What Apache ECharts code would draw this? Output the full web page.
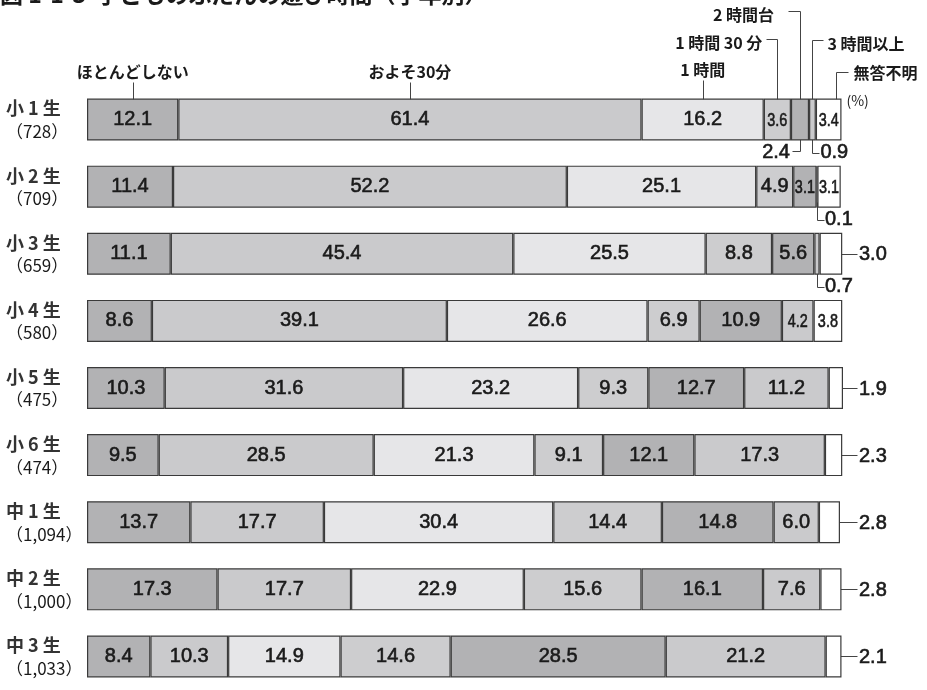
<!DOCTYPE html>
<html><head><meta charset="utf-8">
<script src="https://cdn.jsdelivr.net/npm/echarts@6/dist/echarts.min.js"></script>
<style>html,body{margin:0;padding:0;background:#fff}#c{width:927px;height:690px}</style>
</head><body><div id="c"></div>
<script>
// Grades (rows) and respondent counts
const grades = ['小 1 生','小 2 生','小 3 生','小 4 生','小 5 生','小 6 生','中 1 生','中 2 生','中 3 生'];
const counts = ['728','709','659','580','475','474','1,094','1,000','1,033'];

// Answer categories
const seriesNames = ['ほとんどしない','およそ30分','1 時間','1 時間 30 分','2 時間台','3 時間以上','無答不明'];

// Percentages per answer, by grade (%)
const hardlyAny      = [12.1, 11.4, 11.1,  8.6, 10.3,  9.5, 13.7, 17.3,  8.4];
const about30min     = [61.4, 52.2, 45.4, 39.1, 31.6, 28.5, 17.7, 17.7, 10.3];
const oneHour        = [16.2, 25.1, 25.5, 26.6, 23.2, 21.3, 30.4, 22.9, 14.9];
const oneHalfHour    = [ 3.6,  4.9,  8.8,  6.9,  9.3,  9.1, 14.4, 15.6, 14.6];
const twoHours       = [ 2.4,  3.1,  5.6, 10.9, 12.7, 12.1, 14.8, 16.1, 28.5];
const threeHoursPlus = [ 0.9,  0.1,  0.7,  4.2, 11.2, 17.3,  6.0,  7.6, 21.2];
const noAnswer       = [ 3.4,  3.1,  3.0,  3.8,  1.9,  2.3,  2.8,  2.8,  2.1];

const values = [hardlyAny, about30min, oneHour, oneHalfHour, twoHours, threeHoursPlus, noAnswer];
const colors = ['#b2b2b4', '#cacacc', '#e6e6e8', '#cdcdcf', '#b2b2b4', '#cacacc', '#ffffff'];

// Values written outside the bar: below with an elbow leader [row, series, side]
const belowNotes = [[0, 4, 'left'], [0, 5, 'right'], [1, 5, 'right'], [2, 5, 'right']];
// Rows whose 無答不明 value is written to the right of the bar
const sideNoteRows = [2, 4, 5, 6, 7, 8];
// Segments narrower than this get a condensed label
const NARROW_LIMIT = 4.5;

const hidden = new Set(belowNotes.map(n => n[0] + '-' + n[1]).concat(sideNoteRows.map(r => r + '-6')));

const NUM_FONT = '"Liberation Sans", Arial, sans-serif';
const JP_FONT = '"Noto Sans CJK JP", sans-serif';
const TEXT = '#1a1a1a';
const LINE = '#444';
const HALO = 0.6; // slight stroke to give the numerals a medium weight

const chart = echarts.init(document.getElementById('c'), null, {renderer: 'canvas'});

const series = values.map((arr, s) => ({
  name: seriesNames[s],
  type: 'bar',
  stack: 'total',
  barWidth: 42,
  data: arr,
  itemStyle: {color: colors[s], borderColor: '#3a3a3a', borderWidth: 1.2},
  label: {
    show: true,
    position: 'inside',
    color: TEXT,
    fontFamily: NUM_FONT,
    fontSize: 20,
    textBorderColor: TEXT,
    textBorderWidth: HALO,
    formatter: p => {
      if (hidden.has(p.dataIndex + '-' + s) || p.value < NARROW_LIMIT) return '';
      return p.value.toFixed(1);
    }
  },
  emphasis: {disabled: true},
  silent: true
}));

chart.setOption({
  animation: false,
  backgroundColor: '#fff',
  grid: {left: 87, top: 86, width: 756, height: 612, containLabel: false},
  xAxis: {type: 'value', min: 0, max: 100.2, show: false},
  yAxis: {
    type: 'category',
    inverse: true,
    data: grades,
    axisLine: {show: false},
    axisTick: {show: false},
    axisLabel: {
      align: 'left',
      margin: 81,
      formatter: (v, i) => '{a|' + v + '}\n{b|（' + counts[i] + '）}',
      rich: {
        a: {fontFamily: JP_FONT, fontSize: 18, fontWeight: 'bold', color: '#333', lineHeight: 24},
        b: {fontFamily: JP_FONT, fontSize: 17, color: TEXT, lineHeight: 22}
      }
    }
  },
  series: series
});

// Annotations positioned through the chart's own coordinate system
function px(x, row) { return chart.convertToPixel({gridIndex: 0}, [x, row]); }
function cum(row, s) { let t = 0; for (let k = 0; k < s; k++) t += values[k][row]; return t; }
function centerX(row, s) { return px(cum(row, s) + values[s][row] / 2, row)[0]; }
function endX(row) { return px(cum(row, 7), row)[0]; }
function rowY(row) { return px(0, row)[1]; }

const g = [];
const crisp = v => Math.round(v) + 0.5;
function line(points) {
  g.push({type: 'polyline', shape: {points: points.map(p => [crisp(p[0]), crisp(p[1])])},
          style: {stroke: LINE, lineWidth: 1, fill: null}, silent: true});
}
function text(x, y, str, font, align, scaleX, halo) {
  const style = {text: str, font: font, fill: TEXT, textAlign: align || 'center', textVerticalAlign: 'middle'};
  if (halo) { style.stroke = TEXT; style.lineWidth = halo; }
  g.push({type: 'text', x: x, y: y, scaleX: scaleX || 1, silent: true, z: 10, style: style});
}
const HEAD_FONT = 'bold 16px ' + JP_FONT;
const VAL_FONT = '20px ' + NUM_FONT;

const top0 = rowY(0) - 21;

// Title
g.push({type: 'text', x: 0, y: 6, silent: true,
        style: {text: '図 1-1-3  子どものふだんの遊び時間（学年別）', font: 'bold 23px ' + JP_FONT, fill: TEXT,
                textAlign: 'left', textVerticalAlign: 'bottom'}});

// Condensed labels inside narrow segments
values.forEach((arr, s) => arr.forEach((v, row) => {
  if (v < NARROW_LIMIT && !hidden.has(row + '-' + s)) {
    text(centerX(row, s), rowY(row) + 1, v.toFixed(1), '19px ' + NUM_FONT, 'center', 0.76, HALO);
  }
}));

// Category headings above the first bar
[0, 1].forEach(s => {
  const cx = centerX(0, s);
  text(cx, 72, seriesNames[s], HEAD_FONT);
  line([[cx, 82], [cx, top0 + 9]]);
});
{
  const cx = centerX(0, 2);
  text(cx, 70, seriesNames[2], HEAD_FONT);
  line([[cx, 80], [cx, top0 + 9]]);
}
{
  const cx = centerX(0, 3);
  text(cx - 15, 43, seriesNames[3], HEAD_FONT, 'right');
  line([[cx - 11, 39], [cx, 39], [cx, top0 + 9]]);
}
{
  const cx = centerX(0, 4);
  text(cx - 26, 15, seriesNames[4], HEAD_FONT, 'right');
  line([[cx - 12, 11], [cx, 11], [cx, top0 + 9]]);
}
{
  const cx = centerX(0, 5);
  text(cx + 15, 44, seriesNames[5], HEAD_FONT, 'left');
  line([[cx + 11, 40], [cx, 40], [cx, top0 + 9]]);
}
{
  const lx = endX(0) - 5;
  text(lx + 17, 73, seriesNames[6], HEAD_FONT, 'left');
  line([[lx + 12, 72], [lx, 72], [lx, top0 + 6]]);
  text(lx + 10, 101, '(%)', '14px ' + JP_FONT, 'left');
}

// Values below the bar with elbow leaders
belowNotes.forEach(([row, s, side]) => {
  const cx = centerX(row, s);
  const by = rowY(row) + 21;
  const ty = by + 12;
  const label = values[s][row].toFixed(1);
  if (side === 'left') {
    line([[cx, by - 8], [cx, ty - 2], [cx - 8, ty - 2]]);
    text(cx - 10, ty, label, VAL_FONT, 'right', 1, HALO);
  } else {
    line([[cx, by - 6], [cx, ty], [cx + 7, ty]]);
    text(cx + 8, ty, label, VAL_FONT, 'left', 1, HALO);
  }
});

// 無答不明 values to the right of the bar
sideNoteRows.forEach(row => {
  const y = rowY(row);
  const ex = endX(row);
  line([[ex - 7, y], [857, y]]);
  text(859, y + 1, noAnswer[row].toFixed(1), VAL_FONT, 'left', 1, HALO);
});

chart.setOption({graphic: g});
</script>
</body></html>
